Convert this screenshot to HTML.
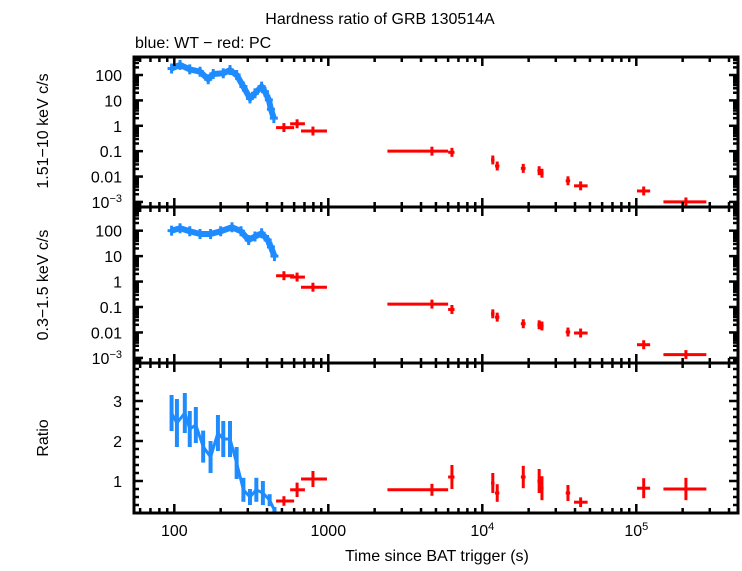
<!DOCTYPE html>
<html><head><meta charset="utf-8"><style>
html,body{margin:0;padding:0;background:#fff;}
svg text{font-family:"Liberation Sans",sans-serif;fill:#000;}
</style></head><body>
<svg id="chart" width="742" height="566" xmlns="http://www.w3.org/2000/svg">
<text x="380" y="24" font-size="16" text-anchor="middle">Hardness ratio of GRB 130514A</text>
<text x="135" y="48" font-size="16">blue: WT − red: PC</text>
<text transform="translate(48,131) rotate(-90)" font-size="16" text-anchor="middle">1.51−10 keV c/s</text>
<text transform="translate(48,285) rotate(-90)" font-size="16" text-anchor="middle">0.3−1.5 keV c/s</text>
<text transform="translate(48,438) rotate(-90)" font-size="16" text-anchor="middle">Ratio</text>
<text x="437" y="561" font-size="16" text-anchor="middle">Time since BAT trigger (s)</text>
<g id="marks"></g>
<g id="axes"></g>
</svg>
<script>
// WT (blue) data
const wtTime = [96,109,126,147,166,179,208,230,254,281,310,334,369,388,411,424,443];
const wtHard = [180,250,167,135,68,110,117,157,100,35,12,19,35,22,10.5,4.5,2.0];
const wtSoftTime = [96,109,126,147,172,200,237,271,304,334,369,404,424,447];
const wtSoft = [100,124,95,74,74,95,136,95,43,59,79,43,23,10];
const wtRatioTime = [96,104,117,126,138,154,172,192,208,230,254,281,310,341,376,416,447];
const wtRatio = [2.7,2.45,2.7,2.3,2.4,1.86,1.6,2.2,2.05,2.05,1.45,0.78,0.6,0.78,0.7,0.52,0.27];
const wtRatioErr = [0.45,0.6,0.5,0.45,0.45,0.4,0.4,0.45,0.45,0.45,0.4,0.3,0.2,0.3,0.3,0.15,0.08];
// PC (red) data
const pcTime = [515,627,795,4710,6350,11700,12500,18450,23400,24400,36000,43500,111700,210000];
const pcLo =   [458,565,665,2420,6000,11400,12100,17800,22800,23800,34800,39400,101000,150000];
const pcHi =   [600,705,980,6000,6600,12000,12900,19100,24000,25000,37200,48300,123000,285000];
const pcHard = [0.85,1.2,0.62,0.1,0.09,0.045,0.026,0.021,0.017,0.0135,0.0068,0.0043,0.0027,0.001];
const pcSoft = [1.7,1.5,0.6,0.13,0.08,0.054,0.04,0.022,0.02,0.018,0.0104,0.0095,0.0033,0.00135];
const pcRatio = [0.5,0.78,1.05,0.78,1.1,0.95,0.7,1.1,1.0,0.82,0.7,0.47,0.82,0.8];
const pcRatioErr = [0.12,0.18,0.2,0.15,0.3,0.25,0.22,0.28,0.3,0.3,0.2,0.12,0.25,0.28];
const hardTicks = ["100","10","1","0.1","0.01"];
const xTickLabels = ["100","1000"];

const NS="http://www.w3.org/2000/svg";
const L=134,R=738;
const P=[{top:57,bot:207,lmin:-3.2,lmax:2.71},{top:207,bot:363,lmin:-3.2,lmax:2.93},{top:363,bot:513,min:0.2,max:3.95}];
function xs(t){return 174.3+(Math.log10(t)-2)*154;}
function ys(i,v){const p=P[i];if(i<2)return p.bot-(Math.log10(v)-p.lmin)/(p.lmax-p.lmin)*(p.bot-p.top);return p.bot-(v-p.min)/(p.max-p.min)*(p.bot-p.top);}
const marks=document.getElementById('marks'),axes=document.getElementById('axes');
function line(g,x1,y1,x2,y2,c,w,name){const e=document.createElementNS(NS,'line');e.setAttribute('x1',x1);e.setAttribute('y1',y1);e.setAttribute('x2',x2);e.setAttribute('y2',y2);e.setAttribute('stroke',c);e.setAttribute('stroke-width',w);


g.appendChild(e);return e;}
function txt(x,y,s,anchor,name,size){const e=document.createElementNS(NS,'text');e.setAttribute('x',x);e.setAttribute('y',y);e.setAttribute('font-size',size||16);e.setAttribute('text-anchor',anchor);e.textContent=s;


axes.appendChild(e);return e;}
function poly(pts,c,w,name){const e=document.createElementNS(NS,'polyline');e.setAttribute('points',pts.map(p=>p.join(',')).join(' '));e.setAttribute('fill','none');e.setAttribute('stroke',c);e.setAttribute('stroke-width',w);e.setAttribute('stroke-linejoin','round');


marks.appendChild(e);}
const BLUE="#1e8cff",RED="#ff0000";
// blue lines
poly(wtTime.map((t,i)=>[xs(t),ys(0,wtHard[i])]),BLUE,6,'wt-hard-series');
poly(wtSoftTime.map((t,i)=>[xs(t),ys(1,wtSoft[i])]),BLUE,6,'wt-soft-series');
wtTime.forEach((t,i)=>{const x=xs(t),y=ys(0,wtHard[i]);line(marks,x,y-5,x,y+5,BLUE,3,'wt-hard-errbar');line(marks,x-4,y,x+4,y,BLUE,3,'wt-hard-xerr');});
wtSoftTime.forEach((t,i)=>{const x=xs(t),y=ys(1,wtSoft[i]);line(marks,x,y-5,x,y+5,BLUE,3,'wt-soft-errbar');line(marks,x-4,y,x+4,y,BLUE,3,'wt-soft-xerr');});
wtRatioTime.forEach((t,i)=>{line(marks,xs(t),ys(2,wtRatio[i]-wtRatioErr[i]),xs(t),ys(2,wtRatio[i]+wtRatioErr[i]),BLUE,4,'wt-ratio-errbar');});
poly(wtRatioTime.map((t,i)=>[xs(t),ys(2,wtRatio[i])]),BLUE,3,'wt-ratio-series');
// red points
pcTime.forEach((t,i)=>{
 [[0,pcHard[i]],[1,pcSoft[i]]].forEach(([p,v])=>{
  const y=ys(p,v);
  line(marks,xs(pcLo[i]),y,xs(pcHi[i]),y,RED,3,'pc-point-xerr');
  line(marks,xs(t),ys(p,v*1.5),xs(t),ys(p,v/1.5),RED,3,'pc-point-yerr');
 });
 const y=ys(2,pcRatio[i]);
 line(marks,xs(pcLo[i]),y,xs(pcHi[i]),y,RED,3,'pc-ratio-xerr');
 line(marks,xs(t),ys(2,pcRatio[i]-pcRatioErr[i]),xs(t),ys(2,pcRatio[i]+pcRatioErr[i]),RED,3,'pc-ratio-yerr');
});
// frames and ticks
P.forEach((p,i)=>{
 const r=document.createElementNS(NS,'rect');r.setAttribute('x',L);r.setAttribute('y',p.top);r.setAttribute('width',R-L);r.setAttribute('height',p.bot-p.top);r.setAttribute('fill','none');r.setAttribute('stroke','#000');r.setAttribute('stroke-width',3);
 
 
 axes.appendChild(r);
 for(let d=1;d<=5;d++){for(let m=1;m<10;m++){const t=m*Math.pow(10,d);const x=xs(t);if(x<=L||x>=R)continue;const len=m===1?9:5;
  line(axes,x,p.top,x,p.top+len,'#000',2.5,'x-tick');line(axes,x,p.bot,x,p.bot-len,'#000',2.5,'x-tick');}}
 if(i<2){for(let d=-4;d<=3;d++){for(let m=1;m<10;m++){const v=m*Math.pow(10,d);const lv=Math.log10(v);if(lv<=p.lmin||lv>=p.lmax)continue;const y=ys(i,v);const len=m===1?9:5;
  line(axes,L,y,L+len,y,'#000',2.5,'y-tick');line(axes,R,y,R-len,y,'#000',2.5,'y-tick');}}
  hardTicks.forEach((s,k)=>{txt(122,ys(i,Math.pow(10,2-k))+6,s,'end','y-tick-label');});
  const e=txt(122,ys(i,0.001)+6,'','end','y-tick-label');e.innerHTML='10<tspan font-size="11" dy="-6">−3</tspan>';
 } else {
  for(let v=0.4;v<3.95;v+=0.2){const y=ys(2,v);const maj=Math.abs(v-Math.round(v))<0.01;const len=maj?9:5;
   line(axes,L,y,L+len,y,'#000',2.5,'y-tick');line(axes,R,y,R-len,y,'#000',2.5,'y-tick');}
  [1,2,3].forEach(v=>txt(122,ys(2,v)+6,String(v),'end','ratio-tick-label'));
 }
});
xTickLabels.forEach((s,k)=>txt(xs(Math.pow(10,k+2)),536,s,'middle','x-tick-label'));
[4,5].forEach(d=>{const e=txt(xs(Math.pow(10,d)),536,'','middle','x-tick-label');e.innerHTML='10<tspan font-size="11" dy="-6">'+d+'</tspan>';});
</script>
</body></html>
